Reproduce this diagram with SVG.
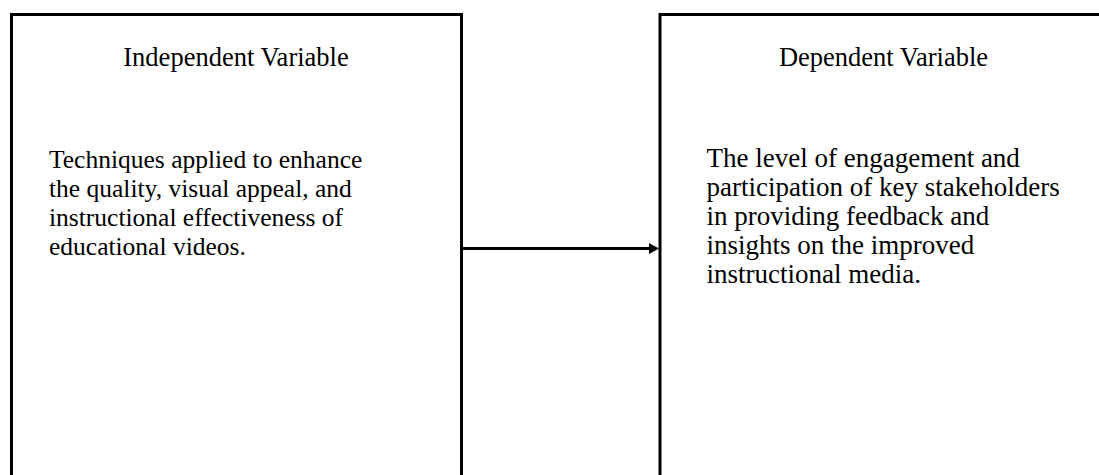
<svg xmlns="http://www.w3.org/2000/svg" width="1099" height="475" viewBox="0 0 1099 475">
<style>
.box{fill:#fff;stroke:#000;stroke-width:3}
.t{font-family:"Liberation Serif","Times New Roman",serif;fill:#000}
.h{text-anchor:middle;font-size:26.5px}
.bl{font-size:25.5px}
.br{font-size:27px}
.edge{stroke:#000;stroke-width:3;fill:none}
</style>
<defs>
<marker id="arr" markerWidth="12" markerHeight="12" refX="0" refY="5.5" orient="auto" markerUnits="userSpaceOnUse">
<path d="M0,0 L10,5.5 L0,11 Z" fill="#000"/>
</marker>
</defs>
<rect width="1099" height="475" fill="#fff"/>
<g id="node-independent">
<rect class="box" x="11.5" y="14.5" width="450" height="480"/>
<text class="t h" x="236" y="66">Independent Variable</text>
<text class="t bl" x="49" y="167.5">Techniques applied to enhance</text>
<text class="t bl" x="49" y="196.5">the quality, visual appeal, and</text>
<text class="t bl" x="49" y="225.5">instructional effectiveness of</text>
<text class="t bl" x="49" y="254.5">educational videos.</text>
</g>
<g id="node-dependent">
<rect class="box" x="660" y="14.5" width="460" height="480"/>
<text class="t h" x="883.5" y="66">Dependent Variable</text>
<text class="t br" x="706.5" y="167">The level of engagement and</text>
<text class="t br" x="706.5" y="196">participation of key stakeholders</text>
<text class="t br" x="706.5" y="225">in providing feedback and</text>
<text class="t br" x="706.5" y="254">insights on the improved</text>
<text class="t br" x="706.5" y="283">instructional media.</text>
</g>
<g id="connectors">
<line class="edge" x1="463" y1="248.5" x2="649" y2="248.5" marker-end="url(#arr)"/>
</g>
</svg>
